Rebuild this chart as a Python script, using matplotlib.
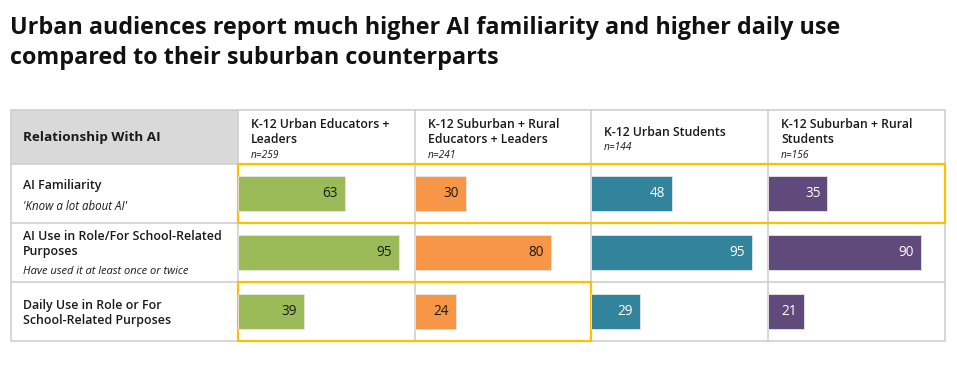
import matplotlib.pyplot as plt
import numpy as np

plt.rcParams['font.family'] = ['Open Sans', 'DejaVu Sans']

# data
groups = ['K-12 Urban Educators +\nLeaders', 'K-12 Suburban + Rural\nEducators + Leaders',
          'K-12 Urban Students', 'K-12 Suburban + Rural\nStudents']
sample_sizes = ['n=259', 'n=241', 'n=144', 'n=156']
rows = ['AI Familiarity', 'AI Use in Role/For School-Related\nPurposes',
        'Daily Use in Role or For\nSchool-Related Purposes']
row_notes = ["'Know a lot about AI'", 'Have used it at least once or twice', '']
familiarity = [63, 30, 48, 35]
use_ever = [95, 80, 95, 90]
daily_use = [39, 24, 29, 21]
colors = ['#9BBB59', '#F79646', '#31849B', '#604A7B']
label_colors = ['#1a1a1a', '#1a1a1a', 'white', 'white']

W, H = 957, 378
fig = plt.figure(figsize=(W / 100, H / 100), dpi=100)

# background axes in pixel coordinates for the table frame and texts
bg = fig.add_axes([0, 0, 1, 1])
bg.set_xlim(0, W)
bg.set_ylim(H, 0)
bg.axis('off')

bg.text(10, 34, 'Urban audiences report much higher AI familiarity and higher daily use',
        fontsize=16.8, fontweight='bold', va='baseline', ha='left', color='#111111')
bg.text(10, 64, 'compared to their suburban counterparts',
        fontsize=16.8, fontweight='bold', va='baseline', ha='left', color='#111111')

left, right = 11, 945
top, head_bot = 110, 164
row_h = 59
col_x = [238, 415, 591, 768, 945]
bottom = head_bot + 3 * row_h
grid = '#CFCFCF'

bg.add_patch(plt.Rectangle((left, top), col_x[0] - left, head_bot - top, color='#D9D9D9', lw=0))
bg.add_patch(plt.Rectangle((left, top), right - left, bottom - top, fill=False, ec=grid, lw=1.2))
for x in col_x[:-1]:
    bg.plot([x, x], [top, bottom], color=grid, lw=1.2)
for i in range(3):
    y = head_bot + i * row_h
    bg.plot([left, right], [y, y], color=grid, lw=1.2)

bg.text(23, 138, 'Relationship With AI', fontsize=9.7, fontweight='bold', va='center', color='#1a1a1a')

# column headers
for i, g in enumerate(groups):
    n_lines = g.count('\n') + 1
    block = n_lines * 16 + 13
    y0 = 140 - block / 2
    bg.text(col_x[i] + 13, y0, g, fontsize=8.8, fontweight='semibold', va='top', color='#1a1a1a',
            linespacing=1.25)
    bg.text(col_x[i] + 13, y0 + n_lines * 16, sample_sizes[i], fontsize=7.3, style='italic', va='top',
            color='#1a1a1a')

# row labels
bg.text(23, 186, rows[0], fontsize=8.9, fontweight='semibold', va='center', color='#1a1a1a')
bg.text(23, 207, row_notes[0], fontsize=8.3, style='italic', va='center', color='#1a1a1a')
bg.text(23, 244, rows[1], fontsize=8.9, fontweight='semibold', va='center', color='#1a1a1a', linespacing=1.25)
bg.text(23, 272, row_notes[1], fontsize=8, style='italic', va='center', color='#1a1a1a')
bg.text(23, 313, rows[2], fontsize=8.9, fontweight='semibold', va='center', color='#1a1a1a', linespacing=1.25)

# bars, one axes per column
px_per_unit = 1.695
values = np.array([familiarity, use_ever, daily_use])
for i in range(4):
    w = col_x[i + 1] - col_x[i]
    ax = fig.add_axes([col_x[i] / W, 1 - bottom / H, w / W, (bottom - head_bot) / H])
    ax.set_xlim(0, w / px_per_unit)
    ax.set_ylim(2.5, -0.5)
    ax.axis('off')
    ax.patch.set_alpha(0)
    ax.barh([0, 1, 2], values[:, i], height=0.58, color=colors[i], edgecolor='#E6E6E6', linewidth=0.6)
    for r in range(3):
        ax.text(values[r, i] - 4, r, str(values[r, i]), ha='right', va='center', fontsize=9.8,
                color=label_colors[i])

# highlight boxes
hl = '#FFC000'
bg.add_patch(plt.Rectangle((col_x[0], head_bot), right - col_x[0], row_h, fill=False, ec=hl, lw=1.6, zorder=5))
bg.add_patch(plt.Rectangle((col_x[0], head_bot + 2 * row_h), col_x[2] - col_x[0], row_h, fill=False, ec=hl, lw=1.6, zorder=5))

fig.savefig('out.png', dpi=100)
